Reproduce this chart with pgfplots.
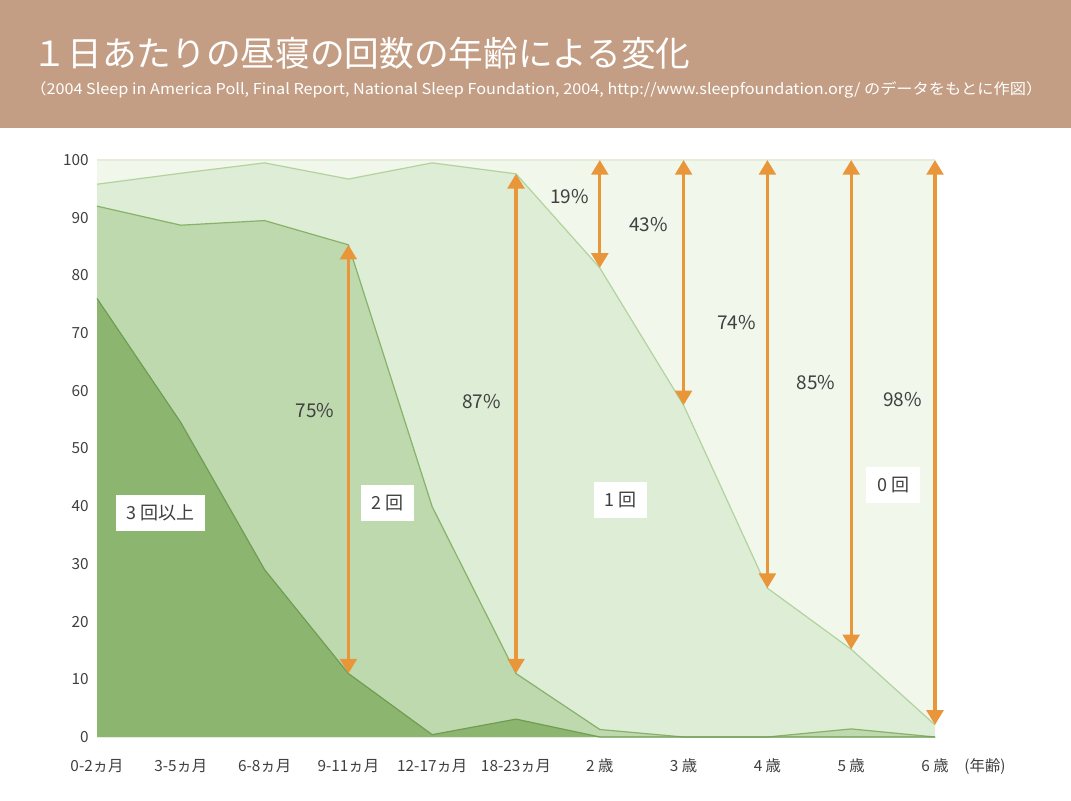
\documentclass[border=0pt]{standalone}
\usepackage{graphicx}
\usepackage{pgfplots}
\pgfplotsset{compat=1.18}
\usepackage{fontspec}
\setmainfont{Noto Sans CJK JP}
\usetikzlibrary{arrows.meta}
\definecolor{hdr}{HTML}{C49E84}
\definecolor{czero}{HTML}{F1F7EB}
\definecolor{lzero}{HTML}{E2EEDA}
\definecolor{cone}{HTML}{DEEDD5}
\definecolor{ctwo}{HTML}{BFD9AE}
\definecolor{cthree}{HTML}{8CB66F}
\definecolor{lone}{HTML}{B2D39D}
\definecolor{ltwo}{HTML}{86B26A}
\definecolor{lthree}{HTML}{6F9D53}
\definecolor{arr}{HTML}{E9963A}
\definecolor{txt}{HTML}{404040}

\pgfplotstableread{
x T M B
0 95.8 92.0 76.0
1 97.7 88.7 54.5
2 99.5 89.5 29.0
3 96.7 85.3 11.0
4 99.5 39.9 0.4
5 97.6 11.0 3.1
6 81.3 1.3 0
7 57.5 0 0
8 25.8 0 0
9 15.2 1.4 0
10 2.1 0 0
}\naps

\begin{document}
\begin{tikzpicture}
\path[use as bounding box, fill=white] (0pt,0pt) rectangle (803.25pt,600pt);
\fill[hdr] (0pt,504pt) rectangle (803.25pt,600pt);
\node[anchor=base west, text=white, inner sep=0pt, font=\fontsize{26pt}{30pt}\selectfont] at (24.5pt,549.75pt) {１日あたりの昼寝の回数の年齢による変化};
\node[anchor=west, text=white, inner sep=0pt] at (22.5pt,532.5pt) {\resizebox{759pt}{\height}{\fontsize{11.25pt}{13pt}\selectfont （2004 Sleep in America Poll, Final Report, National Sleep Foundation, 2004, http://www.sleepfoundation.org/ のデータをもとに作図）}};

\begin{axis}[
  at={(72.75pt,47.25pt)}, anchor=south west,
  scale only axis, width=628.5pt, height=432.75pt,
  xmin=0, xmax=10, ymin=0, ymax=100,
  xtick={0,...,10},
  xticklabels={0-2ヵ月,3-5ヵ月,6-8ヵ月,9-11ヵ月,12-17ヵ月,18-23ヵ月,2 歳,3 歳,4 歳,5 歳,6 歳},
  ytick={0,10,...,100},
  /pgf/number format/assume math mode=true,
  tick label style={font=\fontsize{11.5pt}{13pt}\selectfont, text=txt},
  major tick length=0pt,
  axis line style={draw=none},
  yticklabel style={anchor=east, inner sep=0pt, xshift=-6pt},
  xticklabel style={anchor=base, inner sep=0pt, yshift=-25.5pt},
  axis background/.style={fill=czero},
  clip=false,
]
\addplot[draw=lzero, line width=0.8pt] coordinates {(0,100) (10,100)};
\addplot[fill=cone, draw=none] table[x=x,y=T]{\naps} \closedcycle;
\addplot[lone, line width=0.9pt] table[x=x,y=T]{\naps};
\addplot[fill=ctwo, draw=none] table[x=x,y=M]{\naps} \closedcycle;
\addplot[ltwo, line width=0.9pt] table[x=x,y=M]{\naps};
\addplot[fill=cthree, draw=none] table[x=x,y=B]{\naps} \closedcycle;
\addplot[lthree, line width=0.9pt] table[x=x,y=B]{\naps};

\tikzset{arrs/.style={arr, line width=2.4pt, {Triangle[width=12.5pt,length=11pt]}-{Triangle[width=12.5pt,length=11pt]}}}
\addplot[arrs] coordinates {(3,11.0) (3,85.3)};
\addplot[arrs] coordinates {(5,11.0) (5,97.6)};
\addplot[arrs] coordinates {(6,81.3) (6,100)};
\addplot[arrs] coordinates {(7,57.5) (7,100)};
\addplot[arrs] coordinates {(8,25.8) (8,100)};
\addplot[arrs] coordinates {(9,15.2) (9,100)};
\addplot[arrs] coordinates {(10,2.1) (10,100)};

\tikzset{pct/.style={text=txt, font=\fontsize{14.25pt}{16pt}\selectfont, inner sep=0pt}}
\node[pct] at (axis cs:2.6,56.5) {75\%};
\node[pct] at (axis cs:4.59,58.2) {87\%};
\node[pct] at (axis cs:5.64,93.6) {19\%};
\node[pct] at (axis cs:6.58,88.9) {43\%};
\node[pct] at (axis cs:7.63,71.9) {74\%};
\node[pct] at (axis cs:8.58,61.4) {85\%};
\node[pct] at (axis cs:9.61,58.4) {98\%};

\tikzset{bx/.style={fill=white, text=txt, font=\fontsize{13.5pt}{15pt}\selectfont, inner xsep=8pt, minimum height=27pt}}
\node[bx] at (axis cs:0.76,38.8) {3 回以上};
\node[bx] at (axis cs:3.47,40.6) {2 回};
\node[bx] at (axis cs:6.25,41.1) {1 回};
\node[bx] at (axis cs:9.5,43.7) {0 回};
\end{axis}
\node[anchor=base, text=txt, inner sep=0pt, font=\fontsize{11.5pt}{13pt}\selectfont] at (738.75pt,21.75pt) {(年齢)};
\end{tikzpicture}
\end{document}
